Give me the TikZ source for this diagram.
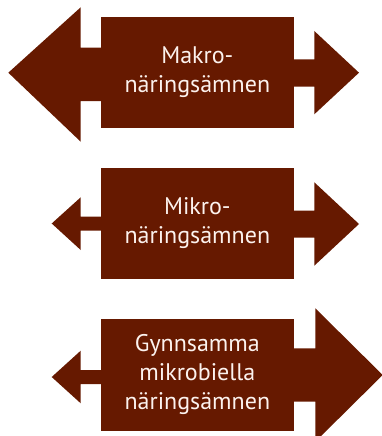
\documentclass[tikz,border=0pt]{standalone}
\usepackage{fontspec}
\setmainfont{PT Sans}
\definecolor{mahog}{RGB}{102,25,0}
\definecolor{paletext}{RGB}{252,242,238}
\tikzset{
  nbox/.style={fill=mahog, draw=none, rectangle, inner sep=0pt, outer sep=0pt,
    minimum width=192.7pt, minimum height=111.6pt, text=paletext, align=center,
    font=\fontsize{24}{29}\selectfont},
  arrowshape/.style={fill=mahog, draw=none}
}
\begin{document}
\begin{tikzpicture}[x=1pt,y=-1pt]
\useasboundingbox (0,0) rectangle (382,436);
\clip (0,0) rectangle (382,436);
% top group
\fill[arrowshape] (102,47.7) -- (80.7,47.7) -- (80.7,7.3) -- (8.3,72.7) -- (80.7,141.7) -- (80.7,101) -- (102,101) -- cycle;
\fill[arrowshape] (292.7,59.3) -- (314.3,59.3) -- (314.3,31) -- (359,72.7) -- (314.3,114.3) -- (314.3,86.7) -- (292.7,86.7) -- cycle;
\node[nbox] (makro) at (197.35,72.5) {Makro-\\näringsämnen};
% middle group
\fill[arrowshape] (102,216.7) -- (80.7,216.7) -- (80.7,197.3) -- (51.7,223.5) -- (80.7,250) -- (80.7,230.7) -- (102,230.7) -- cycle;
\fill[arrowshape] (292.7,210.7) -- (314.3,210.7) -- (314.3,182.3) -- (359,224) -- (314.3,265.7) -- (314.3,237.7) -- (292.7,237.7) -- cycle;
\node[nbox] (mikro) at (197.35,223.5) {Mikro-\\näringsämnen};
% bottom group
\fill[arrowshape] (102,370) -- (80.7,370) -- (80.7,350.7) -- (51.7,377) -- (80.7,403.3) -- (80.7,384) -- (102,384) -- cycle;
\fill[arrowshape] (292.7,348.3) -- (315.3,348.3) -- (315.3,308.3) -- (382.7,375) -- (315.3,441.7) -- (315.3,401.7) -- (292.7,401.7) -- cycle;
\node[nbox] (gynn) at (197.35,374.85) {Gynnsamma\\mikrobiella\\näringsämnen};
\end{tikzpicture}
\end{document}
